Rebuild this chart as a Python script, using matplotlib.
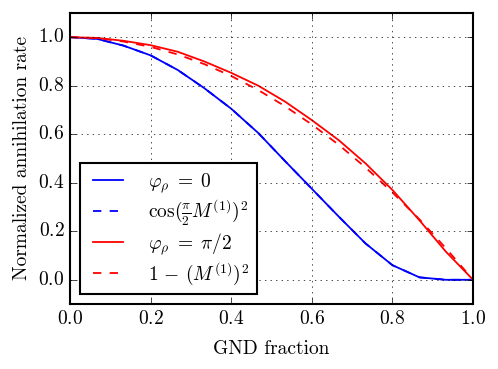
import numpy as np
import matplotlib
matplotlib.use('Agg')
import matplotlib.pyplot as plt

# GND fraction samples
gnd_fraction = [0.0, 0.067, 0.133, 0.2, 0.267, 0.333, 0.4, 0.467,
                0.533, 0.6, 0.667, 0.733, 0.8, 0.867, 0.933, 1.0]

# phi_rho = 0
rate_phi0 = [1.0, 0.993, 0.965, 0.925, 0.865, 0.79, 0.705, 0.605,
             0.49, 0.375, 0.26, 0.15, 0.06, 0.01, 0.0, 0.0]
# cos(pi/2 M)^2 (lies on top of phi_rho = 0)
rate_cos = [1.0, 0.993, 0.965, 0.925, 0.865, 0.79, 0.705, 0.605,
            0.49, 0.375, 0.26, 0.15, 0.06, 0.01, 0.0, 0.0]
# phi_rho = pi/2
rate_phi90 = [1.0, 0.997, 0.985, 0.967, 0.94, 0.90, 0.853, 0.80,
              0.735, 0.658, 0.575, 0.48, 0.37, 0.245, 0.115, 0.0]
# 1 - M^2
rate_sq = [1.0, 0.996, 0.982, 0.96, 0.929, 0.889, 0.84, 0.782,
           0.716, 0.64, 0.556, 0.463, 0.36, 0.249, 0.129, 0.0]

plt.style.use('classic')
plt.rcParams['font.family'] = 'serif'
plt.rcParams['font.serif'] = ['cmr10']
plt.rcParams['mathtext.fontset'] = 'cm'
plt.rcParams['axes.formatter.use_mathtext'] = True
plt.rcParams['font.size'] = 14

fig = plt.figure(figsize=(4.98, 3.69), dpi=100)
ax = fig.add_axes([0.1406, 0.176, 0.8094, 0.789])

ax.plot(gnd_fraction, rate_phi0, color='b', ls='-', lw=1.3, label=r'$\varphi_\rho\;=\;0$')
ax.plot(gnd_fraction, rate_cos, color='b', ls='--', lw=1.3, label=r'$\cos(\frac{\pi}{2}M^{(1)})^2$')
ax.plot(gnd_fraction, rate_phi90, color='r', ls='-', lw=1.3, label=r'$\varphi_\rho\;=\;\pi/2$')
ax.plot(gnd_fraction, rate_sq, color='r', ls='--', lw=1.3, label=r'$1\,-\,(M^{(1)})^2$')

ax.set_xlim(0, 1)
ax.set_ylim(-0.1, 1.1)
ax.set_xticks(np.arange(0, 1.01, 0.2))
ax.set_yticks(np.arange(0, 1.01, 0.2))
ax.tick_params(labelsize=14)
ax.grid(True)
ax.set_xlabel('GND fraction', fontsize=14, labelpad=9)
ax.set_ylabel('Normalized annihilation rate', fontsize=14)

leg = ax.legend(loc='lower left', prop={'size': 14}, labelspacing=0.15,
                handlelength=2.1, handletextpad=1.0, borderaxespad=0.5,
                borderpad=0.4)
leg.get_frame().set_linewidth(1.5)
leg.get_frame().set_edgecolor('k')

for s in ax.spines.values():
    s.set_linewidth(1.5)

fig.savefig('out.png', dpi=100)
